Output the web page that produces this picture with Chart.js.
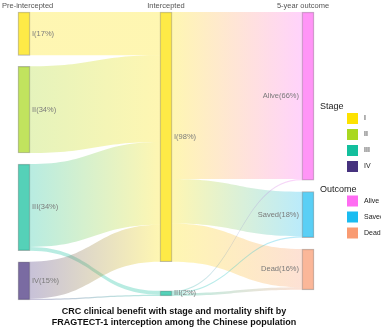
<!DOCTYPE html>
<html>
<head>
<meta charset="utf-8">
<script src="https://cdn.jsdelivr.net/npm/chart.js@4/dist/chart.umd.min.js"></script>
<style>
  body { margin: 0; background: #fff; }
  canvas { display: block; }
</style>
</head>
<body>
<canvas id="sankey" width="381" height="330"></canvas>
<script>
"use strict";

// columns
var columns = ["Pre-intercepted", "Intercepted", "5-year outcome"];

// nodes (share of patients, %)
var stages = ["I", "II", "III", "IV"];
var stageShare = [17, 34, 34, 15];
var interceptedStages = ["I", "III"];
var interceptedShare = [98, 2];
var outcomes = ["Alive", "Saved", "Dead"];
var outcomeShare = [66, 18, 16];

// stage shift: pre-intercepted -> intercepted
var shiftFrom = ["I", "II", "III", "III", "IV", "IV"];
var shiftTo = ["I", "I", "I", "III", "I", "III"];
var shiftValue = [17, 34, 32.5, 1.5, 14.5, 0.5];

// intercepted -> 5-year outcome
var outcomeFrom = ["I", "I", "I", "III", "III", "III"];
var outcomeTo = ["Alive", "Saved", "Dead", "Alive", "Saved", "Dead"];
var outcomeValue = [65.5, 17.5, 15, 0.5, 0.5, 1];

var stageColors = { I: "#FDE200", II: "#A9D820", III: "#13BF9D", IV: "#46327E" };
var outcomeColors = { Alive: "#FF6CF2", Saved: "#1ABCF1", Dead: "#F99B72" };

var Y_MAX = 113;

function rgba(hex, a) {
    var n = parseInt(hex.slice(1), 16);
    return "rgba(" + (n >> 16) + "," + ((n >> 8) & 255) + "," + (n & 255) + "," + a + ")";
}

/**
 * Stack the nodes of one column from the top, with a gap between them.
 */
function layoutColumn(col, names, shares, colors, gap) {
    var y = 0;
    return names.map(function (name, i) {
        var node = { col: col, name: name, value: shares[i], y0: y, y1: y + shares[i],
            color: colors[name], outY: y, inY: y };
        y += shares[i] + gap;
        return node;
    });
}

var nodes = [
    layoutColumn(0, stages, stageShare, stageColors, (Y_MAX - 100) / 3),
    layoutColumn(1, interceptedStages, interceptedShare, stageColors, 11.4),
    layoutColumn(2, outcomes, outcomeShare, outcomeColors, 4.5)
];

function findNode(col, name) {
    return nodes[col].filter(function (n) { return n.name === name; })[0];
}

function buildLinks(col, from, to, values) {
    return values.map(function (v, i) {
        var s = findNode(col, from[i]);
        var t = findNode(col + 1, to[i]);
        var link = { source: s, target: t, value: v, sy: s.outY, ty: 0 };
        s.outY += v;
        return link;
    });
}

var links = buildLinks(0, shiftFrom, shiftTo, shiftValue)
    .concat(buildLinks(1, outcomeFrom, outcomeTo, outcomeValue));

// incoming side follows source order
[1, 2].forEach(function (col) {
    links.filter(function (l) { return l.target.col === col; })
        .sort(function (a, b) { return a.source.y0 - b.source.y0; })
        .forEach(function (l) {
            l.ty = l.target.inY;
            l.target.inY += l.value;
        });
});

// one floating bar dataset per node
var datasets = [];
nodes.forEach(function (colNodes) {
    colNodes.forEach(function (n) {
        var data = [null, null, null];
        data[n.col] = [n.y0, n.y1];
        datasets.push({
            label: n.name,
            data: data,
            backgroundColor: rgba(n.color, 0.72),
            borderColor: "rgba(90,90,90,0.45)",
            borderWidth: 0.8,
            borderSkipped: false,
            grouped: false,
            barThickness: 12,
            clip: false
        });
    });
});

var HALF = 6;
var labelFont = "7.5px 'Liberation Sans', Arial, sans-serif";

var sankeyPlugin = {
    id: "sankeyFlows",
    beforeDatasetsDraw: function (chart) {
        var ctx = chart.ctx;
        var x = chart.scales.x;
        var y = chart.scales.y;
        ctx.save();
        links.forEach(function (l) {
            var x0 = x.getPixelForValue(l.source.col) + HALF;
            var x1 = x.getPixelForValue(l.target.col) - HALF;
            var a0 = y.getPixelForValue(l.sy);
            var b0 = y.getPixelForValue(l.sy + l.value);
            var a1 = y.getPixelForValue(l.ty);
            var b1 = y.getPixelForValue(l.ty + l.value);
            var xm = (x0 + x1) / 2;
            var grad = ctx.createLinearGradient(x0, 0, x1, 0);
            grad.addColorStop(0, rgba(l.source.color, 0.3));
            grad.addColorStop(1, rgba(l.target.color, 0.3));
            ctx.fillStyle = grad;
            ctx.beginPath();
            ctx.moveTo(x0, a0);
            ctx.bezierCurveTo(xm, a0, xm, a1, x1, a1);
            ctx.lineTo(x1, b1);
            ctx.bezierCurveTo(xm, b1, xm, b0, x0, b0);
            ctx.closePath();
            ctx.fill();
        });
        ctx.restore();
    },
    afterDraw: function (chart) {
        var ctx = chart.ctx;
        var x = chart.scales.x;
        var y = chart.scales.y;
        ctx.save();

        // node labels
        ctx.font = labelFont;
        ctx.fillStyle = "#7a7a7a";
        ctx.textBaseline = "middle";
        nodes.forEach(function (colNodes) {
            colNodes.forEach(function (n) {
                var cx = x.getPixelForValue(n.col);
                var cy = y.getPixelForValue((n.y0 + n.y1) / 2);
                var text = n.name + "(" + n.value + "%)";
                if (n.col === 2) {
                    ctx.textAlign = "right";
                    ctx.fillText(text, cx - HALF - 3, cy);
                } else {
                    ctx.textAlign = "left";
                    ctx.fillText(text, cx + HALF + 2, cy);
                }
            });
        });

        // column headers
        ctx.fillStyle = "#555";
        ctx.textAlign = "left";
        ctx.fillText(columns[0], 2, 5.5);
        ctx.textAlign = "center";
        ctx.fillText(columns[1], x.getPixelForValue(1), 5.5);
        ctx.fillText(columns[2], x.getPixelForValue(2) - 5, 5.5);

        // legend
        function legendGroup(title, names, colors, top) {
            ctx.font = "9px 'Liberation Sans', Arial, sans-serif";
            ctx.fillStyle = "#222";
            ctx.textAlign = "left";
            ctx.fillText(title, 320, top);
            ctx.font = "7px 'Liberation Sans', Arial, sans-serif";
            names.forEach(function (name, i) {
                var by = top + 6 + i * 16;
                ctx.fillStyle = colors[name];
                ctx.fillRect(347, by, 11, 11);
                ctx.fillStyle = "#222";
                ctx.fillText(name, 364, by + 5.5);
            });
        }
        legendGroup("Stage", stages, stageColors, 107);
        legendGroup("Outcome", outcomes, outcomeColors, 189.5);

        // title
        ctx.font = "bold 9px 'Liberation Sans', Arial, sans-serif";
        ctx.fillStyle = "#111";
        ctx.textAlign = "center";
        ctx.fillText("CRC clinical benefit with stage and mortality shift by", 174, 312);
        ctx.fillText("FRAGTECT-1 interception among the Chinese population", 174, 323);
        ctx.restore();
    }
};

new Chart(document.getElementById("sankey"), {
    type: "bar",
    data: {
        labels: columns,
        datasets: datasets
    },
    options: {
        responsive: false,
        animation: false,
        layout: {
            padding: { left: 24, right: 73, top: 12, bottom: 30 }
        },
        plugins: {
            legend: { display: false },
            tooltip: { enabled: false }
        },
        scales: {
            x: { display: false, offset: false, grid: { display: false } },
            y: { display: false, min: 0, max: Y_MAX, reverse: true }
        }
    },
    plugins: [sankeyPlugin]
});
</script>
</body>
</html>
